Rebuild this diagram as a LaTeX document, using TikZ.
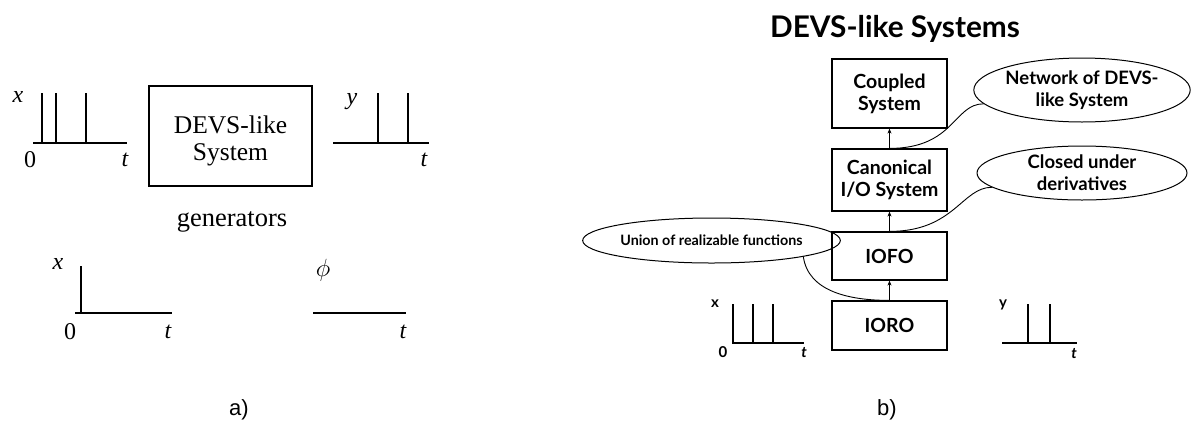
\documentclass[tikz,border=0pt]{standalone}
\usepackage{fontspec}
\usetikzlibrary{shapes.geometric,arrows.meta}
\newfontfamily\lato{Lato}
\newfontfamily\arialf{Liberation Sans}
\newfontfamily\timesf{Liberation Serif}
\begin{document}
\begin{tikzpicture}[x=1pt,y=-1pt,
  sigl/.style={line width=2pt},
  sigr/.style={line width=1.4pt},
  mlbl/.style={inner sep=0pt, font=\timesf\fontsize{24}{26}\selectfont},
  slbl/.style={inner sep=0pt, font=\lato\bfseries\fontsize{15}{18}\selectfont},
  blk/.style={draw, line width=1.2pt, minimum width=115pt, inner sep=0pt, align=center,
    font=\lato\bfseries\fontsize{19.5}{22}\selectfont},
  note/.style={ellipse, draw, line width=1pt, inner sep=0pt, align=center,
    font=\lato\bfseries\fontsize{18.5}{22}\selectfont},
  arr/.style={line width=0.9pt, -{Stealth[length=5pt,width=4pt]}},
  conn/.style={line width=0.9pt},
  captxt/.style={inner sep=0pt, font=\arialf\fontsize{22}{26}\selectfont}]
\useasboundingbox (0,0) rectangle (1200,432);

% ---------------- panel a ----------------
\node[draw, line width=2.2pt, minimum width=163pt, minimum height=100pt, inner sep=0pt] (dev) at (230.5,136) {};
\node[inner sep=0pt, align=center, font=\timesf\fontsize{25.5}{27}\selectfont] (devtxt) at (230.5,140.5) {DEVS-like\\System};

% input signal
\draw[sigl] (33,143) -- (127,143);
\draw[sigl] (42,143) -- (42,93) (56,143) -- (56,93) (86,143) -- (86,93);
\node[mlbl] (xa) at (18,97) {\itshape x};
\node[mlbl] (za) at (30,160) {0};
\node[mlbl] (ta) at (125,160) {\itshape t};

% output signal
\draw[sigl] (333,143) -- (429,143);
\draw[sigl] (378,143) -- (378,93) (408,143) -- (408,93);
\node[mlbl] (ya) at (352,102) {\itshape y};
\node[mlbl] (tb) at (424,160) {\itshape t};

\node[inner sep=0pt, font=\timesf\fontsize{26.5}{28}\selectfont] (gen) at (232,222) {generators};

% generators
\draw[sigl] (75,313) -- (172,313);
\draw[sigl] (81,313) -- (81,266);
\node[mlbl] (xg) at (58,264) {\itshape x};
\node[mlbl] (zg) at (70,332) {0};
\node[mlbl] (tg) at (168,332) {\itshape t};

\draw[sigl] (313,313) -- (406,313);
\node[inner sep=0pt, font=\fontsize{24}{26}\selectfont] (phi) at (323,270) {$\phi$};
\node[mlbl] (tp) at (403,332) {\itshape t};

\node[captxt] (capa) at (239,410) {a)};

% ---------------- panel b ----------------
\node[inner sep=0pt, font=\lato\bfseries\fontsize{29.8}{32}\selectfont] (title) at (895,29) {DEVS-like Systems};

\node[blk, minimum height=69pt] (coup) at (889.5,93.5) {Coupled\\System};
\node[blk, minimum height=62pt] (canon) at (889.5,180) {Canonical\\I/O System};
\node[blk, minimum height=48pt] (iofo) at (889.5,256) {IOFO};
\node[blk, minimum height=49pt] (ioro) at (889.5,325.5) {IORO};

\draw[arr] (canon.north) -- (coup.south);
\draw[arr] (iofo.north) -- (canon.south);
\draw[arr] (ioro.north) -- (iofo.south);

\node[note, minimum width=214pt, minimum height=64pt] (net) at (1082,90) {Network of DEVS-\\like System};
\node[note, minimum width=210pt, minimum height=54pt] (clo) at (1082,173) {Closed under\\derivatives};
\node[note, minimum width=203pt, minimum height=45pt, font=\lato\bfseries\fontsize{14.3}{16}\selectfont] (uni) at (711.5,240.5) {Union of realizable functions};

\draw[conn] (canon.north) .. controls +(65,0) and +(-30,0) .. (net.188);
\draw[conn] (iofo.north) .. controls +(65,0) and +(-30,0) .. (clo.189);
\draw[conn] (uni.-10) .. controls +(5,35) and +(-40,0) .. (ioro.north);

% lower signals
\draw[sigr] (733,304) -- (733,343) -- (804,343);
\draw[sigr] (753,343) -- (753,304) (773,343) -- (773,304);
\node[slbl] (xb) at (715,304) {x};
\node[slbl] (zb) at (723,352) {0};
\node[slbl] (tbx) at (804,353) {\itshape t};

\draw[sigr] (1002,343) -- (1077,343);
\draw[sigr] (1028,343) -- (1028,304) (1050,343) -- (1050,304);
\node[slbl] (yb) at (1003,305) {y};
\node[slbl] (tby) at (1074,354) {\itshape t};

\node[captxt] (capb) at (887,410) {b)};
\end{tikzpicture}
\end{document}
